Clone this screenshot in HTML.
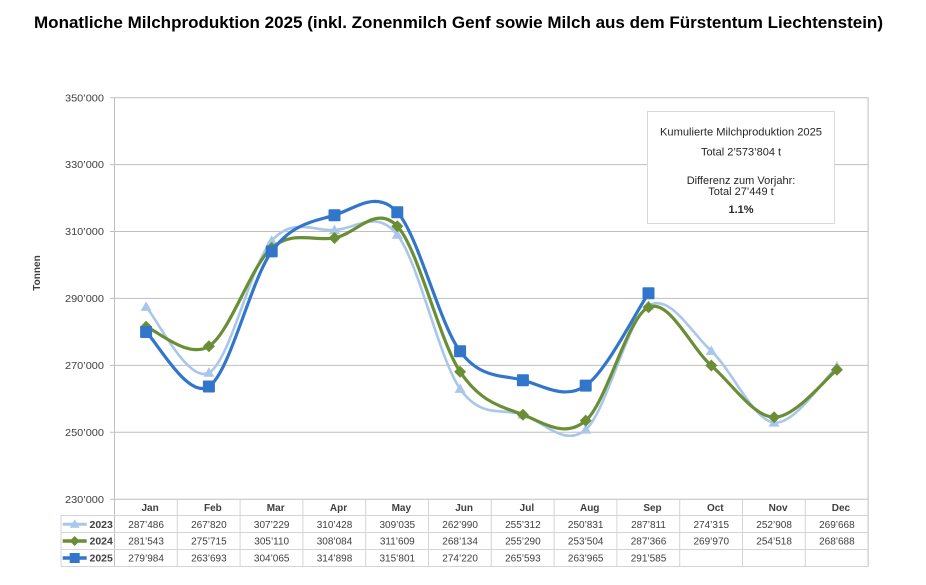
<!DOCTYPE html>
<html>
<head>
<meta charset="utf-8">
<style>
html,body{margin:0;padding:0;background:#fff;}
svg{display:block;}
text{font-family:"Liberation Sans",Arial,sans-serif;}
</style>
</head>
<body>
<svg width="926" height="585" viewBox="0 0 926 585" xmlns="http://www.w3.org/2000/svg">
<rect x="0" y="0" width="926" height="585" fill="#fff"/>
<!-- Title -->
<text x="34" y="28" font-size="17" font-weight="bold" fill="#000" textLength="849" lengthAdjust="spacingAndGlyphs">Monatliche Milchproduktion 2025 (inkl. Zonenmilch Genf sowie Milch aus dem Fürstentum Liechtenstein)</text>

<!-- gridlines -->
<g stroke="#bfbfbf" stroke-width="1">
<line x1="110" y1="97.7" x2="868.1" y2="97.7"/>
<line x1="110" y1="164.6" x2="868.1" y2="164.6"/>
<line x1="110" y1="231.5" x2="868.1" y2="231.5"/>
<line x1="110" y1="298.4" x2="868.1" y2="298.4"/>
<line x1="110" y1="365.4" x2="868.1" y2="365.4"/>
<line x1="110" y1="432.3" x2="868.1" y2="432.3"/>
<line x1="110" y1="499.3" x2="868.1" y2="499.3"/>
<line x1="114.5" y1="97.7" x2="114.5" y2="566.5"/>
<line x1="868.1" y1="97.7" x2="868.1" y2="566.5"/>
</g>

<!-- y labels -->
<g font-size="10.5" fill="#404040" text-anchor="end">
<text x="104" y="101.3" textLength="39" lengthAdjust="spacingAndGlyphs">350’000</text>
<text x="104" y="168.2" textLength="39" lengthAdjust="spacingAndGlyphs">330’000</text>
<text x="104" y="235.1" textLength="39" lengthAdjust="spacingAndGlyphs">310’000</text>
<text x="104" y="302.0" textLength="39" lengthAdjust="spacingAndGlyphs">290’000</text>
<text x="104" y="369.0" textLength="39" lengthAdjust="spacingAndGlyphs">270’000</text>
<text x="104" y="435.9" textLength="39" lengthAdjust="spacingAndGlyphs">250’000</text>
<text x="104" y="502.9" textLength="39" lengthAdjust="spacingAndGlyphs">230’000</text>
</g>
<text transform="translate(40,273) rotate(-90)" text-anchor="middle" font-size="10" font-weight="bold" fill="#404040">Tonnen</text>

<!-- table grid -->
<g stroke="#d4d4d4" stroke-width="1">
<line x1="61" y1="515.5" x2="868.1" y2="515.5"/>
<line x1="61" y1="532.5" x2="868.1" y2="532.5"/>
<line x1="61" y1="549.5" x2="868.1" y2="549.5"/>
<line x1="61" y1="566.5" x2="868.1" y2="566.5"/>
<line x1="61" y1="515.5" x2="61" y2="566.5"/>
<line x1="177.3" y1="499.3" x2="177.3" y2="566.5"/>
<line x1="240.1" y1="499.3" x2="240.1" y2="566.5"/>
<line x1="302.9" y1="499.3" x2="302.9" y2="566.5"/>
<line x1="365.7" y1="499.3" x2="365.7" y2="566.5"/>
<line x1="428.5" y1="499.3" x2="428.5" y2="566.5"/>
<line x1="491.3" y1="499.3" x2="491.3" y2="566.5"/>
<line x1="554.1" y1="499.3" x2="554.1" y2="566.5"/>
<line x1="616.9" y1="499.3" x2="616.9" y2="566.5"/>
<line x1="679.7" y1="499.3" x2="679.7" y2="566.5"/>
<line x1="742.5" y1="499.3" x2="742.5" y2="566.5"/>
<line x1="805.3" y1="499.3" x2="805.3" y2="566.5"/>
</g>

<!-- month headers -->
<g font-size="10" font-weight="bold" fill="#404040" text-anchor="middle">
<text x="150.1" y="511">Jan</text>
<text x="212.9" y="511">Feb</text>
<text x="275.7" y="511">Mar</text>
<text x="338.5" y="511">Apr</text>
<text x="401.3" y="511">May</text>
<text x="464.1" y="511">Jun</text>
<text x="526.9" y="511">Jul</text>
<text x="589.7" y="511">Aug</text>
<text x="652.5" y="511">Sep</text>
<text x="715.3" y="511">Oct</text>
<text x="778.1" y="511">Nov</text>
<text x="840.9" y="511">Dec</text>
</g>

<!-- table values -->
<g font-size="10" fill="#404040" text-anchor="middle">
<text x="146.1" y="527.8">287’486</text>
<text x="208.9" y="527.8">267’820</text>
<text x="271.7" y="527.8">307’229</text>
<text x="334.5" y="527.8">310’428</text>
<text x="397.3" y="527.8">309’035</text>
<text x="460.1" y="527.8">262’990</text>
<text x="522.9" y="527.8">255’312</text>
<text x="585.7" y="527.8">250’831</text>
<text x="648.5" y="527.8">287’811</text>
<text x="711.3" y="527.8">274’315</text>
<text x="774.1" y="527.8">252’908</text>
<text x="836.9" y="527.8">269’668</text>

<text x="146.1" y="544.6">281’543</text>
<text x="208.9" y="544.6">275’715</text>
<text x="271.7" y="544.6">305’110</text>
<text x="334.5" y="544.6">308’084</text>
<text x="397.3" y="544.6">311’609</text>
<text x="460.1" y="544.6">268’134</text>
<text x="522.9" y="544.6">255’290</text>
<text x="585.7" y="544.6">253’504</text>
<text x="648.5" y="544.6">287’366</text>
<text x="711.3" y="544.6">269’970</text>
<text x="774.1" y="544.6">254’518</text>
<text x="836.9" y="544.6">268’688</text>

<text x="146.1" y="561.5">279’984</text>
<text x="208.9" y="561.5">263’693</text>
<text x="271.7" y="561.5">304’065</text>
<text x="334.5" y="561.5">314’898</text>
<text x="397.3" y="561.5">315’801</text>
<text x="460.1" y="561.5">274’220</text>
<text x="522.9" y="561.5">265’593</text>
<text x="585.7" y="561.5">263’965</text>
<text x="648.5" y="561.5">291’585</text>
</g>

<!-- table legend -->
<line x1="62.7" y1="524.3" x2="86.7" y2="524.3" stroke="#a9c6eb" stroke-width="3"/>
<polygon points="74.7,519.3 79.7,527.8 69.7,527.8" fill="#a9c6eb"/>
<line x1="62.7" y1="541" x2="86.7" y2="541" stroke="#6a8e35" stroke-width="3.5"/>
<polygon points="74.7,536 79.7,541 74.7,546 69.7,541" fill="#6a8e35"/>
<line x1="62.7" y1="558" x2="86.7" y2="558" stroke="#3176cb" stroke-width="3.5"/>
<rect x="69.7" y="553" width="10" height="10" fill="#3176cb"/>
<g font-size="10.5" font-weight="bold" fill="#404040">
<text x="89.5" y="528">2023</text>
<text x="89.5" y="544.7">2024</text>
<text x="89.5" y="561.7">2025</text>
</g>

<!-- series 2023 -->
<path d="M146.1,306.91 C156.57,317.88 187.97,383.74 208.9,372.73 C229.83,361.72 250.77,264.61 271.7,240.84 C292.63,217.07 313.57,231.14 334.5,230.13 C355.43,229.12 376.37,208.33 397.3,234.79 C418.23,261.25 439.17,358.92 460.1,388.89 C481.03,418.86 501.97,407.81 522.9,414.59 C543.83,421.37 564.77,447.72 585.7,429.59 C606.63,411.46 627.57,318.92 648.5,305.82 C669.43,292.72 690.37,331.52 711.3,350.99 C732.23,370.46 753.17,420.04 774.1,422.63 C795.03,425.22 826.43,375.89 836.9,366.54" fill="none" stroke="#a9c6eb" stroke-width="2.6" stroke-linejoin="round"/>
<g fill="#a9c6eb">
<polygon points="146.1,301.4 151.6,310.9 140.6,310.9"/>
<polygon points="208.9,367.2 214.4,376.7 203.4,376.7"/>
<polygon points="271.7,235.3 277.2,244.8 266.2,244.8"/>
<polygon points="334.5,224.6 340,234.1 329,234.1"/>
<polygon points="397.3,229.3 402.8,238.8 391.8,238.8"/>
<polygon points="460.1,383.4 465.6,392.9 454.6,392.9"/>
<polygon points="522.9,409.1 528.4,418.6 517.4,418.6"/>
<polygon points="585.7,424.1 591.2,433.6 580.2,433.6"/>
<polygon points="648.5,300.3 654,309.8 643,309.8"/>
<polygon points="711.3,345.5 716.8,355 705.8,355"/>
<polygon points="774.1,417.1 779.6,426.6 768.6,426.6"/>
<polygon points="836.9,361 842.4,370.5 831.4,370.5"/>
</g>

<!-- series 2024 -->
<path d="M146.1,326.80 C156.57,330.05 187.97,359.46 208.9,346.31 C229.83,333.16 250.77,265.99 271.7,247.93 C292.63,229.87 313.57,241.61 334.5,237.98 C355.43,234.35 376.37,203.90 397.3,226.18 C418.23,248.46 439.17,340.27 460.1,371.68 C481.03,403.09 501.97,406.50 522.9,414.66 C543.83,422.82 564.77,438.53 585.7,420.64 C606.63,402.75 627.57,316.50 648.5,307.31 C669.43,298.12 690.37,347.21 711.3,365.53 C732.23,383.85 753.17,416.53 774.1,417.25 C795.03,417.97 826.43,377.73 836.9,369.82" fill="none" stroke="#6a8e35" stroke-width="3.2" stroke-linejoin="round"/>
<g fill="#6a8e35">
<polygon points="146.1,320.8 152.1,326.8 146.1,332.8 140.1,326.8"/>
<polygon points="208.9,340.3 214.9,346.3 208.9,352.3 202.9,346.3"/>
<polygon points="271.7,241.9 277.7,247.9 271.7,253.9 265.7,247.9"/>
<polygon points="334.5,232 340.5,238 334.5,244 328.5,238"/>
<polygon points="397.3,220.2 403.3,226.2 397.3,232.2 391.3,226.2"/>
<polygon points="460.1,365.7 466.1,371.7 460.1,377.7 454.1,371.7"/>
<polygon points="522.9,408.7 528.9,414.7 522.9,420.7 516.9,414.7"/>
<polygon points="585.7,414.6 591.7,420.6 585.7,426.6 579.7,420.6"/>
<polygon points="648.5,301.3 654.5,307.3 648.5,313.3 642.5,307.3"/>
<polygon points="711.3,359.5 717.3,365.5 711.3,371.5 705.3,365.5"/>
<polygon points="774.1,411.3 780.1,417.3 774.1,423.3 768.1,417.3"/>
<polygon points="836.9,363.8 842.9,369.8 836.9,375.8 830.9,369.8"/>
</g>

<!-- series 2025 -->
<path d="M146.1,332.02 C156.57,341.11 187.97,399.97 208.9,386.54 C229.83,373.11 250.77,279.99 271.7,251.43 C292.63,222.87 313.57,221.72 334.5,215.17 C355.43,208.62 376.37,189.46 397.3,212.15 C418.23,234.84 439.17,323.30 460.1,351.31 C481.03,379.32 501.97,374.46 522.9,380.18 C543.83,385.90 564.77,400.13 585.7,385.63 C606.63,371.13 638.03,308.60 648.5,293.19" fill="none" stroke="#3176cb" stroke-width="3.2" stroke-linejoin="round"/>
<g fill="#3176cb">
<rect x="140.1" y="326" width="12" height="12" rx="1"/>
<rect x="202.9" y="380.5" width="12" height="12" rx="1"/>
<rect x="265.7" y="245.4" width="12" height="12" rx="1"/>
<rect x="328.5" y="209.2" width="12" height="12" rx="1"/>
<rect x="391.3" y="206.2" width="12" height="12" rx="1"/>
<rect x="454.1" y="345.3" width="12" height="12" rx="1"/>
<rect x="516.9" y="374.2" width="12" height="12" rx="1"/>
<rect x="579.7" y="379.6" width="12" height="12" rx="1"/>
<rect x="642.5" y="287.2" width="12" height="12" rx="1"/>
</g>

<!-- info box -->
<rect x="647.5" y="111.5" width="187" height="112" fill="#fff" stroke="#d9d9d9" stroke-width="1"/>
<g font-size="11" fill="#262626" text-anchor="middle">
<text x="741" y="135.5" textLength="162" lengthAdjust="spacingAndGlyphs">Kumulierte Milchproduktion 2025</text>
<text x="741" y="155.5">Total 2’573’804 t</text>
<text x="741" y="183.8">Differenz zum Vorjahr:</text>
<text x="741" y="194.8">Total 27’449 t</text>
<text x="741" y="213.2" font-weight="bold">1.1%</text>
</g>
</svg>
</body>
</html>
